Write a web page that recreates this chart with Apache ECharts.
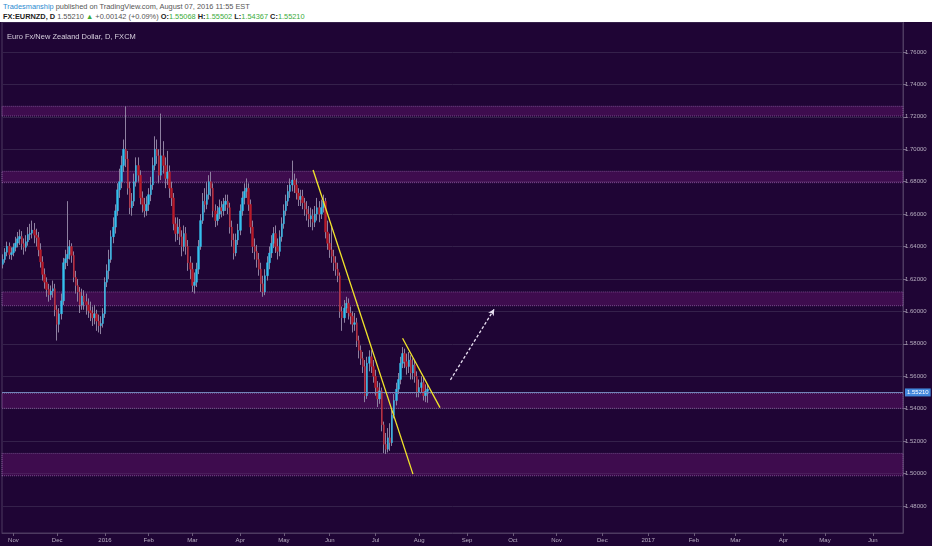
<!DOCTYPE html>
<html><head><meta charset="utf-8">
<script src="https://cdn.jsdelivr.net/npm/echarts@6/dist/echarts.min.js"></script>
<style>
html,body{margin:0;padding:0;background:#fff;width:932px;height:550px;overflow:hidden;font-family:"Liberation Sans",Arial,sans-serif;}
#hdr{position:absolute;left:3px;top:0;font-size:7.4px;color:#555;white-space:nowrap}
#hdr .l1{position:absolute;top:2px;left:0}
#hdr .l2{position:absolute;top:12px;left:0}
#hdr b{color:#222}
#hdr .g{color:#3aab3a}
#chart{position:absolute;left:0;top:22px;width:932px;height:524px;}
</style></head><body>
<div id="hdr">
<div class="l1"><span style="color:#2b8ad0">Tradesmanship</span> published on TradingView.com, August 07, 2016 11:55 EST</div>
<div class="l2"><b>FX:EURNZD, D</b> 1.55210 <span class="g">▲</span> +0.00142 (+0.09%) <b>O:</b><span class="g">1.55068</span> <b>H:</b><span class="g">1.55502</span> <b>L:</b><span class="g">1.54367</span> <b>C:</b><span class="g">1.55210</span></div>
</div>
<div id="chart"></div>
<script>
// ---- data ----
const firstDay = '2015-10-26';
const dayCount = 433; // weekday slots on the axis (Oct 2015 .. Jun 2017)
const monthNames = ['Jan','Feb','Mar','Apr','May','Jun','Jul','Aug','Sep','Oct','Nov','Dec'];
const chartTitle = 'Euro Fx/New Zealand Dollar, D, FXCM';
const lastPrice = 1.55210;
// [open, close, low, high]
const ohlc = [
[1.6290,1.6320,1.6265,1.6352],[1.6320,1.6365,1.6300,1.6390],[1.6365,1.6402,1.6340,1.6430],[1.6402,1.6350,1.6322,1.6425],[1.6350,1.6362,1.6318,1.6395],
[1.6362,1.6395,1.6340,1.6420],[1.6395,1.6421,1.6370,1.6460],[1.6421,1.6448,1.6395,1.6490],[1.6448,1.6462,1.6410,1.6505],[1.6462,1.6418,1.6380,1.6495],
[1.6418,1.6395,1.6350,1.6450],[1.6395,1.6430,1.6370,1.6470],[1.6430,1.6475,1.6405,1.6520],[1.6475,1.6482,1.6440,1.6540],[1.6482,1.6502,1.6450,1.6560],
[1.6502,1.6470,1.6420,1.6545],[1.6470,1.6455,1.6400,1.6510],[1.6455,1.6380,1.6340,1.6490],[1.6380,1.6305,1.6270,1.6420],[1.6305,1.6228,1.6190,1.6340],
[1.6228,1.6180,1.6140,1.6265],[1.6180,1.6135,1.6090,1.6210],[1.6135,1.6102,1.6060,1.6170],[1.6102,1.6125,1.6070,1.6160],[1.6125,1.6140,1.6085,1.6190],
[1.6140,1.6010,1.5970,1.6170],[1.6010,1.5920,1.5820,1.6040],[1.5920,1.5985,1.5870,1.6020],[1.5985,1.6065,1.5950,1.6110],[1.6065,1.6300,1.6040,1.6330],
[1.6300,1.6325,1.6260,1.6380],[1.6325,1.6352,1.6280,1.6680],[1.6352,1.6400,1.6320,1.6440],[1.6400,1.6345,1.6300,1.6420],[1.6345,1.6210,1.6180,1.6370],
[1.6210,1.6160,1.6110,1.6250],[1.6160,1.6120,1.6060,1.6200],[1.6120,1.6040,1.5990,1.6150],[1.6040,1.6095,1.6010,1.6140],[1.6095,1.6060,1.6010,1.6130],
[1.6060,1.6040,1.5980,1.6110],[1.6040,1.6005,1.5960,1.6080],[1.6005,1.5990,1.5940,1.6060],[1.5990,1.5960,1.5910,1.6030],[1.5960,1.5985,1.5920,1.6040],
[1.5985,1.5940,1.5880,1.6010],[1.5940,1.5912,1.5870,1.5980],[1.5912,1.5925,1.5860,1.5970],[1.5925,1.5985,1.5900,1.6020],[1.5985,1.6180,1.5960,1.6210],
[1.6180,1.6250,1.6150,1.6290],[1.6250,1.6320,1.6200,1.6380],[1.6320,1.6460,1.6300,1.6500],[1.6460,1.6520,1.6420,1.6580],[1.6520,1.6620,1.6480,1.6660],
[1.6620,1.6750,1.6590,1.6790],[1.6750,1.6800,1.6700,1.6880],[1.6800,1.6900,1.6760,1.6960],[1.6900,1.7000,1.6860,1.7060],[1.7000,1.6940,1.6890,1.7265],
[1.6940,1.6760,1.6720,1.6990],[1.6760,1.6640,1.6600,1.6800],[1.6640,1.6680,1.6590,1.6730],[1.6680,1.6800,1.6650,1.6850],[1.6800,1.6900,1.6770,1.6950],
[1.6900,1.6840,1.6800,1.6950],[1.6840,1.6700,1.6660,1.6870],[1.6700,1.6660,1.6610,1.6740],[1.6660,1.6620,1.6580,1.6700],[1.6620,1.6660,1.6590,1.6710],
[1.6660,1.6720,1.6620,1.6760],[1.6720,1.6780,1.6680,1.6830],[1.6780,1.6900,1.6750,1.6950],[1.6900,1.7000,1.6870,1.7080],[1.7000,1.6960,1.6910,1.7060],
[1.6960,1.6840,1.6790,1.7000],[1.6840,1.6960,1.6810,1.7220],[1.6960,1.6900,1.6850,1.7050],[1.6900,1.6820,1.6760,1.6950],[1.6820,1.6860,1.6780,1.6990],
[1.6860,1.6760,1.6700,1.6900],[1.6760,1.6700,1.6650,1.6800],[1.6700,1.6540,1.6500,1.6730],[1.6540,1.6480,1.6430,1.6580],[1.6480,1.6520,1.6440,1.6580],
[1.6520,1.6460,1.6410,1.6570],[1.6460,1.6400,1.6340,1.6500],[1.6400,1.6480,1.6370,1.6530],[1.6480,1.6400,1.6350,1.6520],[1.6400,1.6300,1.6250,1.6440],
[1.6300,1.6260,1.6200,1.6340],[1.6260,1.6160,1.6120,1.6300],[1.6160,1.6180,1.6110,1.6240],[1.6180,1.6260,1.6150,1.6300],[1.6260,1.6400,1.6230,1.6440],
[1.6400,1.6560,1.6380,1.6600],[1.6560,1.6680,1.6540,1.6730],[1.6680,1.6660,1.6610,1.6760],[1.6660,1.6720,1.6630,1.6800],[1.6720,1.6800,1.6690,1.6840],
[1.6800,1.6760,1.6710,1.6860],[1.6760,1.6620,1.6580,1.6790],[1.6620,1.6560,1.6520,1.6660],[1.6560,1.6600,1.6530,1.6650],[1.6600,1.6640,1.6570,1.6690],
[1.6640,1.6620,1.6580,1.6680],[1.6620,1.6660,1.6590,1.6700],[1.6660,1.6680,1.6620,1.6720],[1.6680,1.6640,1.6600,1.6720],[1.6640,1.6520,1.6480,1.6670],
[1.6520,1.6440,1.6400,1.6560],[1.6440,1.6360,1.6320,1.6480],[1.6360,1.6440,1.6340,1.6480],[1.6440,1.6500,1.6410,1.6540],[1.6500,1.6620,1.6470,1.6660],
[1.6620,1.6700,1.6590,1.6740],[1.6700,1.6740,1.6660,1.6790],[1.6740,1.6760,1.6700,1.6820],[1.6760,1.6660,1.6620,1.6790],[1.6660,1.6520,1.6480,1.6690],
[1.6520,1.6400,1.6360,1.6560],[1.6400,1.6370,1.6320,1.6450],[1.6370,1.6320,1.6270,1.6410],[1.6320,1.6260,1.6220,1.6360],[1.6260,1.6170,1.6120,1.6300],
[1.6170,1.6120,1.6090,1.6220],[1.6120,1.6220,1.6100,1.6260],[1.6220,1.6300,1.6190,1.6340],[1.6300,1.6360,1.6260,1.6400],[1.6360,1.6420,1.6330,1.6470],
[1.6420,1.6480,1.6390,1.6520],[1.6480,1.6400,1.6360,1.6530],[1.6400,1.6370,1.6320,1.6450],[1.6370,1.6460,1.6340,1.6500],[1.6460,1.6540,1.6430,1.6580],
[1.6540,1.6620,1.6510,1.6660],[1.6620,1.6680,1.6590,1.6720],[1.6680,1.6740,1.6650,1.6780],[1.6740,1.6780,1.6700,1.6820],[1.6780,1.6810,1.6740,1.6930],
[1.6810,1.6780,1.6730,1.6850],[1.6780,1.6730,1.6690,1.6820],[1.6730,1.6690,1.6650,1.6760],[1.6690,1.6710,1.6650,1.6750],[1.6710,1.6670,1.6630,1.6750],
[1.6670,1.6630,1.6590,1.6700],[1.6630,1.6600,1.6560,1.6680],[1.6600,1.6570,1.6520,1.6650],[1.6570,1.6590,1.6520,1.6640],[1.6590,1.6550,1.6500,1.6630],
[1.6550,1.6600,1.6520,1.6650],[1.6600,1.6640,1.6560,1.6700],[1.6640,1.6600,1.6550,1.6680],[1.6600,1.6640,1.6570,1.6690],[1.6640,1.6680,1.6610,1.6720],
[1.6680,1.6490,1.6450,1.6700],[1.6490,1.6420,1.6380,1.6560],[1.6420,1.6380,1.6330,1.6480],[1.6380,1.6340,1.6300,1.6520],[1.6340,1.6300,1.6250,1.6380],
[1.6300,1.6260,1.6220,1.6340],[1.6260,1.6220,1.6180,1.6300],[1.6220,1.6000,1.5960,1.6240],[1.6000,1.5960,1.5880,1.6030],[1.5960,1.6020,1.5930,1.6070],
[1.6020,1.6050,1.5990,1.6090],[1.6050,1.5990,1.5950,1.6080],[1.5990,1.5970,1.5920,1.6030],[1.5970,1.5920,1.5870,1.6000],[1.5920,1.5930,1.5880,1.5990],
[1.5930,1.5820,1.5780,1.5960],[1.5820,1.5760,1.5710,1.5850],[1.5760,1.5710,1.5670,1.5790],[1.5710,1.5660,1.5620,1.5750],[1.5660,1.5480,1.5440,1.5700],
[1.5480,1.5680,1.5460,1.5720],[1.5680,1.5720,1.5630,1.5760],[1.5720,1.5660,1.5620,1.5760],[1.5660,1.5600,1.5560,1.5700],[1.5600,1.5530,1.5480,1.5640],
[1.5530,1.5460,1.5410,1.5570],[1.5460,1.5510,1.5430,1.5560],[1.5510,1.5300,1.5260,1.5530],[1.5300,1.5180,1.5126,1.5320],[1.5180,1.5150,1.5120,1.5250],
[1.5150,1.5220,1.5130,1.5280],[1.5220,1.5190,1.5140,1.5310],[1.5190,1.5360,1.5170,1.5400],[1.5360,1.5450,1.5340,1.5490],[1.5450,1.5520,1.5420,1.5560],
[1.5520,1.5580,1.5490,1.5620],[1.5580,1.5680,1.5550,1.5720],[1.5680,1.5740,1.5650,1.5780],[1.5740,1.5690,1.5650,1.5770],[1.5690,1.5660,1.5610,1.5740],
[1.5660,1.5700,1.5620,1.5750],[1.5700,1.5620,1.5580,1.5730],[1.5620,1.5670,1.5580,1.5710],[1.5670,1.5600,1.5560,1.5700],[1.5600,1.5500,1.5470,1.5630],
[1.5500,1.5530,1.5470,1.5580],[1.5530,1.5560,1.5500,1.5600],[1.5560,1.5480,1.5450,1.5590],[1.5480,1.5507,1.5440,1.5550],[1.55068,1.55210,1.54367,1.55502]
];
// horizontal zones [low, high]
const zones = [[1.7205,1.7265],[1.6794,1.6864],[1.6035,1.6120],[1.5402,1.5494],[1.4986,1.5124]];
// trend lines [[index, value],[index, value]]
const trendLines = [[[149.2,1.6872],[196.9,1.4996]],[[192.0,1.5834],[210.3,1.5406]]];
const arrowLine = [[214.9,1.5577],[235.7,1.6013]];

// ---- weekday categories ----
function weekdays(start, n){
  const out=[]; const d=new Date(start+'T00:00:00Z');
  while(out.length<n){ const w=d.getUTCDay(); if(w!==0&&w!==6) out.push(d.toISOString().slice(0,10)); d.setUTCDate(d.getUTCDate()+1);}
  return out;
}
const categories = weekdays(firstDay, dayCount);
function isMonthStart(i){ return i>0 && categories[i].slice(5,7)!==categories[i-1].slice(5,7); }
function monthLabel(v){ const m=+v.slice(5,7)-1; return m===0 ? v.slice(0,4) : monthNames[m]; }

const bodies = ohlc.map(r=>[r[0],r[1],Math.min(r[0],r[1]),Math.max(r[0],r[1])]);
const FONT='"Liberation Sans",Arial,sans-serif';
const axisCol='#4d3a60', labCol='#b7aec0';

const chart = echarts.init(document.getElementById('chart'));
chart.setOption({
  backgroundColor:'#1f0535',
  animation:false,
  title:{text:chartTitle,left:7,top:11,padding:0,textStyle:{color:'#d6cfdd',fontSize:7.5,fontWeight:'normal',fontFamily:FONT}},
  grid:{left:2,right:29,top:0,bottom:13,show:true,borderColor:axisCol,borderWidth:1},
  xAxis:{type:'category',data:categories,boundaryGap:true,
    axisLine:{lineStyle:{color:axisCol}},
    axisTick:{show:true,alignWithLabel:true,interval:isMonthStart,length:3,lineStyle:{color:'#6a5a7a'}},
    axisLabel:{interval:isMonthStart,formatter:monthLabel,color:labCol,fontSize:6,margin:4,fontFamily:FONT},
    splitLine:{show:false}},
  yAxis:{type:'value',position:'right',min:1.4633,max:1.7785,minInterval:0.02,maxInterval:0.02,splitNumber:15,
    axisLine:{show:true,lineStyle:{color:axisCol}},
    axisTick:{show:true,length:3,lineStyle:{color:'#7a6a8a'}},
    axisLabel:{color:labCol,fontSize:6,margin:2,fontFamily:FONT,showMinLabel:false,showMaxLabel:false,formatter:v=>v.toFixed(5)},
    splitLine:{show:true,lineStyle:{color:'#35214b',width:1}}},
  series:[
    {type:'candlestick',name:'wick',data:ohlc,barWidth:1,z:2,
     itemStyle:{color:'#8e80a0',color0:'#8e80a0',borderColor:'#8e80a0',borderColor0:'#8e80a0',borderWidth:1},
     markArea:{silent:true,itemStyle:{color:'rgba(105,25,115,0.42)',borderColor:'rgba(165,120,185,0.6)',borderType:'dotted',borderWidth:1},
       data:zones.map(z=>[{yAxis:z[0]},{yAxis:z[1]}])}},
    {type:'candlestick',name:'body',data:bodies,barWidth:2,z:3,
     itemStyle:{color:'#35c0ee',color0:'#b81c2a',borderColor:'#35c0ee',borderColor0:'#b81c2a',borderWidth:0.4},
     markLine:{silent:true,animation:false,symbol:'none',
       data:[
         {yAxis:lastPrice,lineStyle:{color:'#7283b8',width:1,type:'solid'},
          label:{show:true,position:'end',distance:2,formatter:lastPrice.toFixed(5),color:'#fff',backgroundColor:'#4287dc',fontSize:6,padding:[1,2],fontFamily:FONT}},
         ...trendLines.map(t=>[{coord:t[0],symbol:'none',lineStyle:{color:'#f2e52a',width:1.3,type:'solid'},label:{show:false}},{coord:t[1],symbol:'none'}]),
         [{coord:arrowLine[0],symbol:'none',lineStyle:{color:'#e6def0',width:1.3,type:[3,2]},label:{show:false}},{coord:arrowLine[1],symbol:'arrow',symbolSize:[5,6]}]
       ]}}
  ]
});
</script>
</body></html>
